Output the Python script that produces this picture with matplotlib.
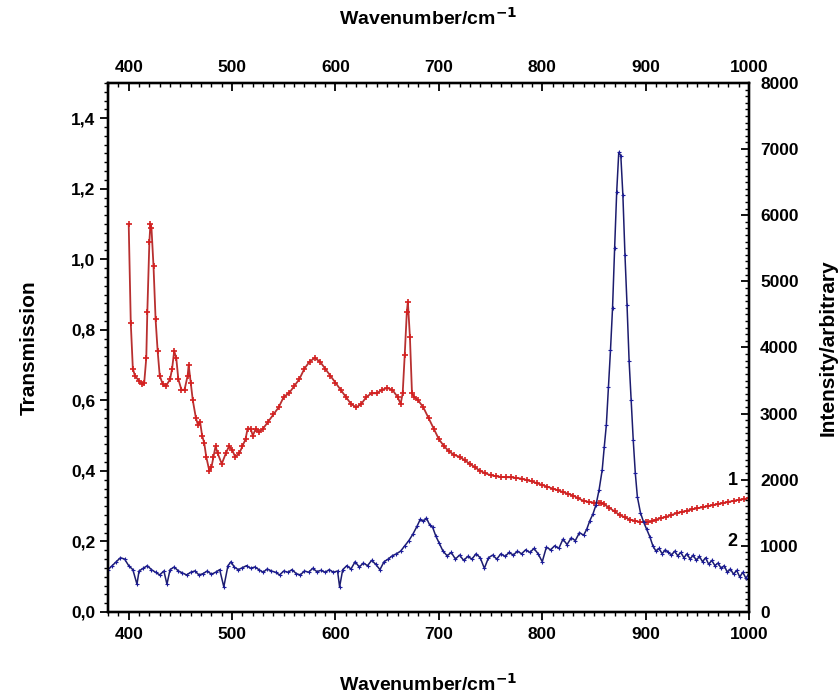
import matplotlib
matplotlib.use("Agg")
import matplotlib.pyplot as plt
from matplotlib.ticker import MultipleLocator, FuncFormatter

plt.rcParams['font.family'] = ['Liberation Sans', 'DejaVu Sans']
plt.rcParams['font.weight'] = 'bold'

# Curve 1: transmission (left axis)
wn_t = [400, 402, 404, 406, 410, 413, 415, 417, 418, 420, 421, 422, 424, 426, 428, 430,
        433, 436, 440, 442, 444, 446, 448, 451, 454, 457, 458, 460, 462, 465, 467, 469,
        471, 473, 475, 478, 480, 482, 484, 486, 490, 494, 497, 500, 503, 507, 510, 513,
        515, 518, 520, 523, 526, 530, 535, 540, 545, 550, 555, 560, 565, 570, 575, 580,
        585, 590, 595, 600, 605, 610, 615, 620, 625, 630, 635, 640, 645, 650, 655, 660,
        663, 665, 667, 669, 670, 672, 674, 676, 680, 685, 690, 695, 700, 705, 710, 715,
        720, 725, 730, 735, 740, 745, 750, 755, 760, 765, 770, 775, 780, 785, 790, 795,
        800, 805, 810, 815, 820, 825, 830, 835, 840, 845, 850, 855, 857, 860, 865, 870,
        875, 880, 885, 890, 895, 900, 902, 906, 910, 915, 920, 925, 930, 935, 940, 945,
        950, 955, 960, 965, 970, 975, 980, 985, 990, 995, 1000]
trans = [1.10, 0.82, 0.69, 0.67, 0.655, 0.645, 0.65, 0.72, 0.85, 1.05, 1.10, 1.09, 0.98, 0.83, 0.74, 0.67,
         0.645, 0.64, 0.66, 0.69, 0.74, 0.72, 0.66, 0.63, 0.63, 0.67, 0.70, 0.65, 0.60, 0.55, 0.53, 0.54,
         0.50, 0.48, 0.44, 0.40, 0.41, 0.44, 0.47, 0.45, 0.42, 0.45, 0.47, 0.46, 0.44, 0.45, 0.47, 0.49,
         0.52, 0.52, 0.50, 0.52, 0.51, 0.52, 0.54, 0.56, 0.58, 0.61, 0.62, 0.64, 0.66, 0.69, 0.71, 0.72,
         0.71, 0.69, 0.67, 0.65, 0.63, 0.61, 0.59, 0.58, 0.59, 0.61, 0.62, 0.62, 0.63, 0.635, 0.63, 0.61,
         0.59, 0.62, 0.73, 0.85, 0.88, 0.78, 0.62, 0.61, 0.60, 0.58, 0.55, 0.52, 0.49, 0.47, 0.455, 0.445,
         0.44, 0.43, 0.42, 0.41, 0.40, 0.393, 0.388, 0.385, 0.383, 0.382, 0.382, 0.380, 0.378, 0.374, 0.370, 0.365,
         0.360, 0.355, 0.350, 0.345, 0.340, 0.335, 0.330, 0.322, 0.315, 0.312, 0.310, 0.310, 0.310, 0.305, 0.295, 0.285,
         0.275, 0.268, 0.262, 0.258, 0.255, 0.255, 0.255, 0.257, 0.262, 0.266, 0.270, 0.275, 0.280, 0.284, 0.287, 0.291,
         0.294, 0.297, 0.300, 0.303, 0.306, 0.309, 0.312, 0.315, 0.318, 0.320, 0.323]

# Curve 2: Raman intensity (right axis)
wn_i = [380, 384, 388, 392, 396, 400, 404, 408, 410, 414, 418, 422, 426, 430, 434, 437,
        440, 444, 448, 452, 456, 460, 464, 468, 472, 476, 480, 484, 488, 492, 496, 499,
        502, 506, 510, 514, 518, 522, 526, 530, 534, 538, 542, 546, 550, 554, 558, 562,
        566, 570, 574, 578, 582, 586, 590, 594, 598, 602, 604, 607, 611, 615, 619, 623,
        627, 631, 635, 639, 643, 647, 651, 655, 659, 663, 667, 671, 675, 679, 682, 685,
        688, 691, 694, 697, 700, 704, 708, 712, 716, 720, 724, 728, 732, 736, 740, 744,
        748, 752, 756, 760, 764, 768, 772, 776, 780, 784, 788, 792, 796, 800, 804, 808,
        812, 816, 820, 824, 828, 832, 836, 840, 843, 846, 849, 852, 855, 858, 860, 862,
        864, 866, 868, 870, 872, 874, 876, 878, 880, 882, 884, 886, 888, 890, 892, 895,
        898, 901, 904, 907, 910, 913, 916, 919, 922, 925, 928, 931, 934, 937, 940, 943,
        946, 949, 952, 955, 958, 961, 964, 967, 970, 973, 976, 979, 982, 985, 988, 991,
        994, 997, 1000]
inten = [640, 700, 760, 820, 800, 700, 640, 420, 620, 660, 700, 640, 600, 560, 620, 420,
         640, 680, 620, 590, 560, 600, 620, 560, 580, 620, 570, 600, 640, 380, 700, 760,
         680, 640, 670, 700, 660, 680, 640, 600, 650, 620, 600, 560, 620, 600, 640, 580,
         560, 620, 600, 660, 610, 630, 600, 640, 600, 620, 380, 640, 700, 650, 760, 680,
         740, 700, 780, 720, 640, 760, 800, 850, 880, 920, 1000, 1080, 1180, 1300, 1400, 1370,
         1420, 1320, 1280, 1150, 1050, 920, 850, 900, 800, 860, 780, 840, 800, 880, 820, 660,
         820, 860, 800, 880, 840, 900, 860, 920, 880, 940, 900, 960, 880, 760, 980, 940,
         1000, 960, 1100, 1020, 1120, 1080, 1200, 1160, 1250, 1380, 1480, 1620, 1850, 2150, 2500, 2830,
         3400, 3960, 4600, 5500, 6350, 6950, 6900, 6300, 5400, 4640, 3800, 3200, 2600, 2100, 1740, 1500,
         1360, 1250, 1140, 1000, 920, 960, 880, 940, 900, 860, 920, 850, 900, 820, 880, 800,
         860, 780, 840, 760, 820, 720, 780, 700, 740, 660, 700, 600, 650, 570, 630, 530,
         600, 510, 580]

x_ticks = [400, 500, 600, 700, 800, 900, 1000]
t_ticks = [0.0, 0.2, 0.4, 0.6, 0.8, 1.0, 1.2, 1.4]
i_ticks = [0, 1000, 2000, 3000, 4000, 5000, 6000, 7000, 8000]

fig = plt.figure(figsize=(8.4, 6.97), dpi=100)
ax = fig.add_axes([0.1286, 0.122, 0.7631, 0.759])
ax2 = ax.twinx()
ax3 = ax.twiny()

ax.plot(wn_t, trans, color='#b83030', lw=1.3, marker='+', ms=4, mec='#d42020', mew=1.2, zorder=3)
ax2.plot(wn_i, inten, color='#1c1c6e', lw=1.1, marker='+', ms=2.5, mec='#1c1c9a', mew=0.8, zorder=3)

ax.set_xlim(380, 1000)
ax.set_ylim(0, 1.5)
ax2.set_ylim(0, 8000)
ax3.set_xlim(380, 1000)

ax.set_xticks(x_ticks)
ax3.set_xticks(x_ticks)
ax.set_yticks(t_ticks)
ax2.set_yticks(i_ticks)
ax.xaxis.set_minor_locator(MultipleLocator(10))
ax3.xaxis.set_minor_locator(MultipleLocator(10))
ax.yaxis.set_minor_locator(MultipleLocator(0.025))
ax2.yaxis.set_minor_locator(MultipleLocator(100))

ax.yaxis.set_major_formatter(FuncFormatter(lambda v, p: f"{v:.1f}".replace('.', ',')))

for a in (ax, ax2, ax3):
    for t in a.get_xticklabels() + a.get_yticklabels():
        t.set_fontweight('bold')

TS = 12.5
ax.tick_params(axis='x', which='major', direction='out', length=6, width=1.3, labelsize=TS, pad=5)
ax.tick_params(axis='x', which='minor', direction='out', length=3, width=1.0)
ax.tick_params(axis='y', which='major', direction='out', length=6, width=1.3, labelsize=TS, pad=3)
ax.tick_params(axis='y', which='minor', direction='out', length=3, width=1.0)
ax3.tick_params(axis='x', which='major', direction='in', length=6, width=1.3, labelsize=TS, pad=6)
ax3.tick_params(axis='x', which='minor', direction='in', length=3, width=1.0)
ax2.tick_params(axis='y', which='major', direction='in', length=6, width=1.3, labelsize=TS, pad=8)
ax2.tick_params(axis='y', which='minor', direction='in', length=3, width=1.0)

for a in (ax, ax2, ax3):
    for s in a.spines.values():
        s.set_linewidth(1.6)

ax.set_xlabel('Wavenumber/cm$^{\\mathbf{-1}}$', fontsize=14, fontweight='bold', labelpad=22)
ax3.set_xlabel('Wavenumber/cm$^{\\mathbf{-1}}$', fontsize=14, fontweight='bold', labelpad=25)
ax.set_ylabel('Transmission', fontsize=15, fontweight='bold', labelpad=23)
ax2.set_ylabel('Intensity/arbitrary', fontsize=15, fontweight='bold', labelpad=14)

ax.text(984, 0.374, '1', fontsize=13, fontweight='bold', ha='center', va='center')
ax.text(984, 0.200, '2', fontsize=13, fontweight='bold', ha='center', va='center')

fig.savefig('out.png', dpi=100)
